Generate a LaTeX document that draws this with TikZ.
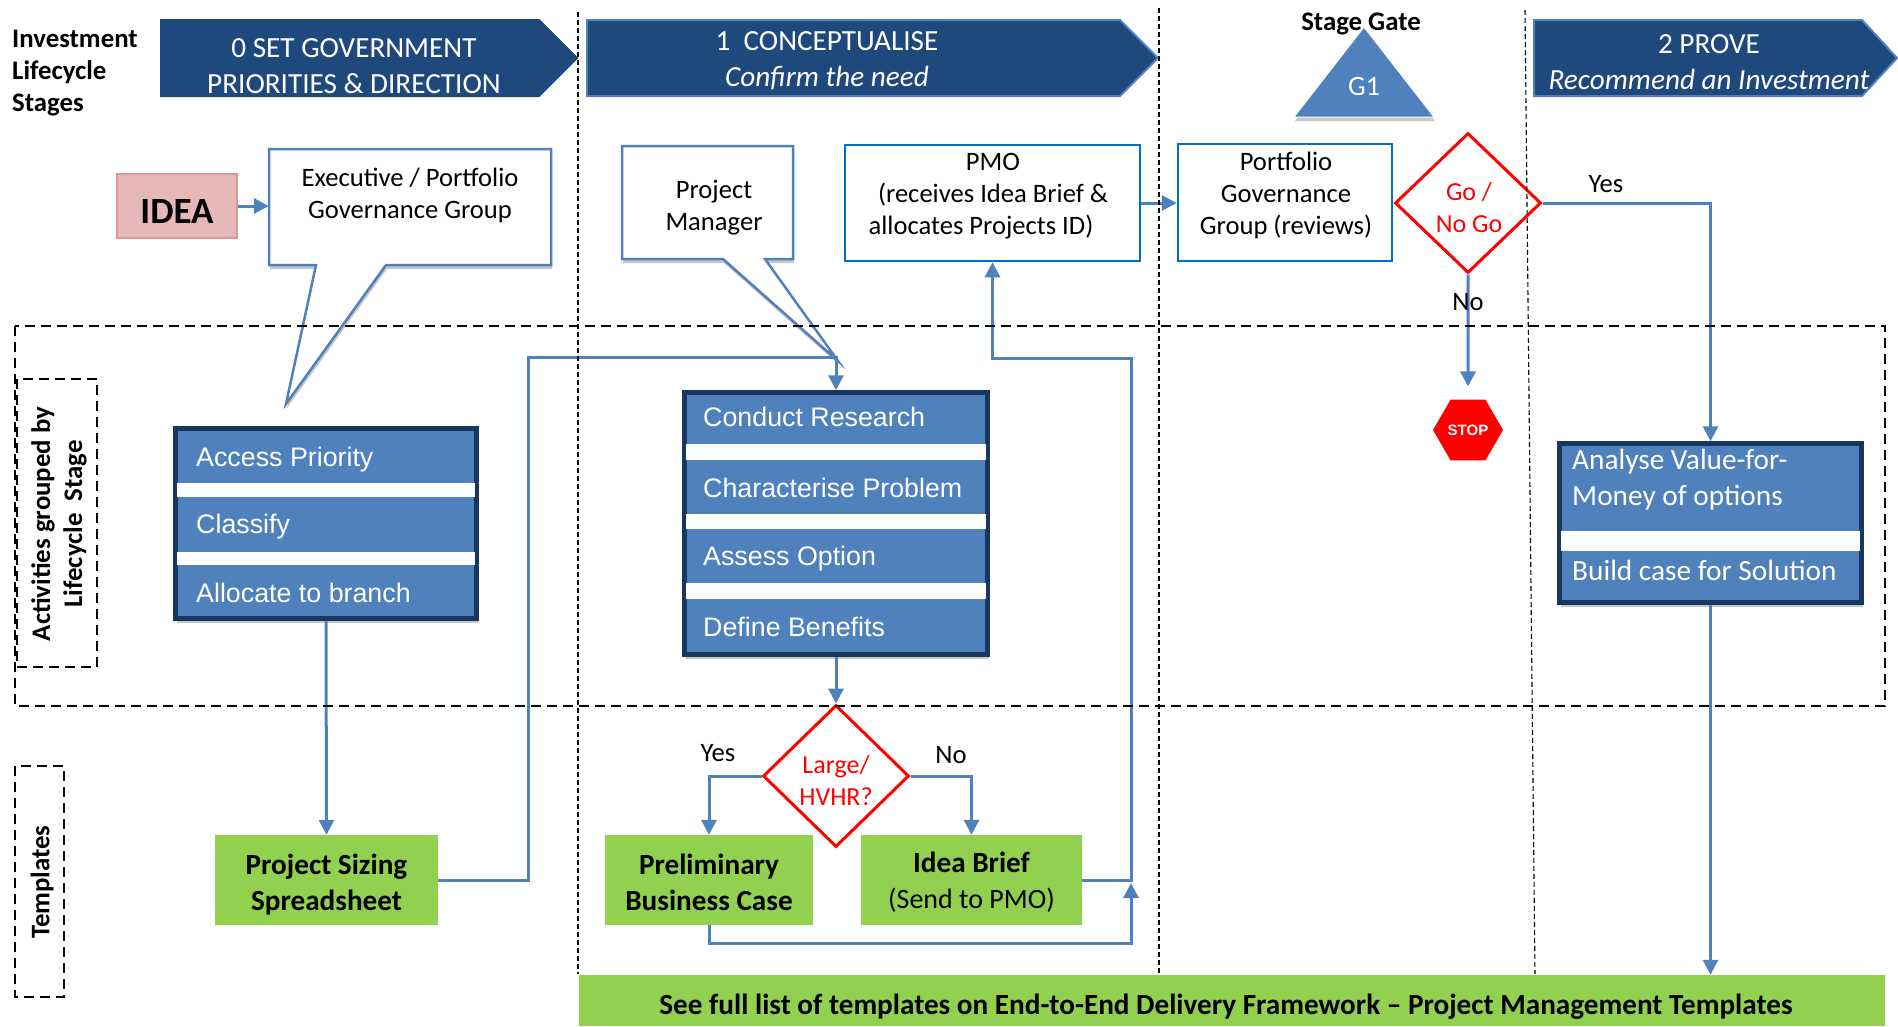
\documentclass[tikz,border=0pt]{standalone}
\usepackage{fontspec}
\setmainfont{Carlito}
\newfontfamily\arialfont{Liberation Sans}
\usetikzlibrary{arrows.meta,shapes.geometric,shadows}
\definecolor{navy}{HTML}{1F497D}
\definecolor{steel}{HTML}{4F81BD}
\definecolor{deep}{HTML}{17375E}
\definecolor{leaf}{HTML}{92D050}
\definecolor{pink}{HTML}{E6B8B7}
\definecolor{rose}{HTML}{D99694}
\definecolor{azure}{HTML}{0070C0}
\tikzset{
    txt/.style={font=\fontsize{26.6}{32}\selectfont,align=center,inner sep=0pt},
    boldtxt/.style={txt,font=\fontsize{26.8}{32}\selectfont\bfseries},
    flow/.style={steel,line width=3pt,-{Triangle[length=15pt,width=15pt]}},
    softshadow/.style={drop shadow={shadow xshift=1pt,shadow yshift=-4pt,opacity=.22,fill=black}},
    chevtxt/.style={txt,white,font=\fontsize{29.2}{36}\selectfont},
    talk/.style={fill=white,draw=steel,line width=2.5pt,softshadow},
    plainbox/.style={rectangle,inner sep=0pt,fill=white,draw=azure,line width=2.5pt},
    gatebox/.style={diamond,fill=white,draw=red,line width=3pt,inner sep=0pt},
    gatetxt/.style={txt,text=red,font=\fontsize{26}{32}\selectfont},
    stack/.style={rectangle,fill=steel,draw=deep,line width=4.5pt,softshadow,inner sep=0pt},
    item/.style={anchor=west,inner sep=0pt,white,font=\arialfont\fontsize{26.8}{32}\selectfont},
    itemb/.style={anchor=west,inner sep=0pt,white,align=left,font=\fontsize{29.3}{36}\selectfont},
    template/.style={rectangle,fill=leaf,inner sep=0pt},
    templatetxt/.style={inner sep=0pt,align=center,font=\fontsize{29.2}{36}\selectfont\bfseries},
    region/.style={black,line width=2.5pt,dash pattern=on 10pt off 6pt},
    lane/.style={black,line width=1.1pt,dash pattern=on 5pt off 3pt}
}
\begin{document}
\begin{tikzpicture}[x=1pt,y=-1pt]
    \useasboundingbox (0,0) rectangle (1898,1026);
    % stage banners
    \foreach \xa/\xb/\xc/\edge in {161/539/577/navy,587/1120/1158/steel,1534/1862/1897/steel}
    \draw[fill=navy,draw=\edge,line width=2pt] (\xa,20) -- (\xb,20) -- (\xc,58) -- (\xb,96) -- (\xa,96) -- cycle;
    \node[chevtxt] (stagezero) at (354,66) {0 SET GOVERNMENT\\PRIORITIES \& DIRECTION};
    \node[chevtxt] (stageone) at (827,61) {1\ \ CONCEPTUALISE\\\itshape Confirm the need};
    \node[chevtxt] (stagetwo) at (1709,62) {2 PROVE\\\itshape Recommend an Investment};
    \node[boldtxt,align=left,anchor=west] (lifecycle) at (12,73) {Investment\\Lifecycle\\Stages};
    \node[boldtxt] (stagegate) at (1361,24) {Stage Gate};
    \draw[fill=steel,draw=white,line width=1pt,softshadow] (1364,27) -- (1434,117) -- (1294,117) -- cycle;
    \node[txt,white,font=\fontsize{28}{32}\selectfont] (gone) at (1364,87) {G1};
    % top row
    \node[rectangle,fill=pink,draw=rose,line width=2pt,minimum width=120pt,minimum height=64pt,inner sep=0pt] (idea) at (177,206) {};
    \node[inner sep=0pt,font=\fontsize{37}{40}\selectfont\bfseries] (ideatxt) at (177,211) {IDEA};
    \draw[talk] (269,149) -- (551,149) -- (551,265) -- (386,265) -- (286,404) -- (316,265) -- (269,265) -- cycle;
    \node[txt,minimum width=282pt,minimum height=90pt] (exec) at (410,195) {Executive / Portfolio\\Governance Group};
    \draw[talk] (622,146) -- (793,146) -- (793,259) -- (765,259) -- (838,361) -- (723,259) -- (622,259) -- cycle;
    \node[txt] (pm) at (714,208) {Project\\Manager};
    \node[plainbox,minimum width=295pt,minimum height=116pt] (pmo) at (992.5,203) {};
    \node[txt] (pmotxt) at (993,196) {PMO\\(receives Idea Brief \&\hspace*{24pt}\\allocates Projects ID)\hspace*{24pt}};
    \node[plainbox,minimum width=214pt,minimum height=117pt] (portfolio) at (1285,202.5) {};
    \node[txt] (portfoliotxt) at (1286,195) {Portfolio\\Governance\\Group (reviews)};
    \node[gatebox,minimum width=146pt,minimum height=140pt] (go) at (1468,203) {};
    \node[gatetxt] (gotxt) at (1469,208) {Go /\\No Go};
    % activities
    \node[stack,minimum width=301pt,minimum height=190pt] (access) at (326,523.5) {};
    \node[stack,minimum width=303pt,minimum height=262pt] (conduct) at (836,523.5) {};
    \node[stack,minimum width=302pt,minimum height=159pt] (analyse) at (1710.5,523) {};
    \foreach \ya/\yb in {483/497,552/565}
    \fill[white] (177,\ya) rectangle (475,\yb);
    \foreach \ya/\yb in {444/460,514/529,583/599}
    \fill[white] (686,\ya) rectangle (986,\yb);
    \fill[white] (1561,531) rectangle (1860,551);
    \node[item] (accessa) at (196,460) {Access Priority};
    \node[item] (accessb) at (196,527) {Classify};
    \node[item] (accessc) at (196,593) {Allocate to branch};
    \node[item] (conducta) at (703,417) {Conduct Research};
    \node[item] (conductb) at (703,488) {Characterise Problem};
    \node[item] (conductc) at (703,559) {Assess Option};
    \node[item] (conductd) at (703,627) {Define Benefits};
    \node[itemb] (analysea) at (1572,480) {Analyse Value-for-\\Money of options};
    \node[itemb] (analyseb) at (1572,570) {Build case for Solution};
    \node[regular polygon,regular polygon sides=6,fill=red,minimum size=70pt,inner sep=0pt,text=white,font=\arialfont\fontsize{15}{18}\selectfont\bfseries] (stop) at (1468,430) {STOP};
    % templates
    \node[gatebox,minimum width=146pt,minimum height=142pt] (large) at (836,776) {};
    \node[gatetxt] (largetxt) at (836,781) {Large/\\HVHR?};
    \node[template,minimum width=223pt,minimum height=90pt] (sizing) at (326.5,880) {};
    \node[templatetxt] (sizingtxt) at (326.5,885) {Project Sizing\\Spreadsheet};
    \node[template,minimum width=208pt,minimum height=90pt] (prelim) at (709,880) {};
    \node[templatetxt] (prelimtxt) at (709,882) {Preliminary\\Business Case};
    \node[template,minimum width=221pt,minimum height=90pt] (brief) at (971.5,880) {};
    \node[templatetxt] (brieftxt) at (971.5,882) {Idea Brief\\\normalfont\fontsize{28}{36}\selectfont (Send to PMO)};
    \node[template,minimum width=1306pt,minimum height=51pt] (fulllist) at (1232,1000.5) {};
    \node[templatetxt] (fulllisttxt) at (1226,1007) {See full list of templates on End-to-End Delivery Framework -- Project Management Templates};
    % bends
    \coordinate (sizingbend) at (528,357);
    \coordinate (briefbend) at (1131,358);
    \coordinate (prelimbend) at (1131,943);
    \coordinate (prelimend) at (1131,883);
    \draw[flow] (idea.east) -- (idea.east -| exec.west);
    \draw[flow] (pmo.east) -- (pmo.east -| portfolio.west);
    \draw[flow] (access.south) -- (sizing.north);
    \draw[flow] (sizing.east) -| (sizingbend) -| (conduct.north);
    \draw[flow] (conduct.south) -- (large.north);
    \draw[flow] (large.west) -| (prelim.north);
    \draw[flow] (large.east) -| (brief.north);
    \draw[flow] (brief.east) -| (briefbend) -| (pmo.south);
    \draw[flow] (prelim.south) |- (prelimbend) -- (prelimend);
    \draw[flow] (go.east) -| (analyse.north);
    \draw[flow,shorten >=13pt] (go.south) -- (stop.north);
    \draw[flow] (analyse.south) -- (analyse.south |- fulllist.north);
    \node[txt] (yesgo) at (1606,184) {Yes};
    \node[txt] (nogo) at (1468,302) {No};
    \node[txt] (yeslarge) at (718,753) {Yes};
    \node[txt] (nolarge) at (951,755) {No};
    % dashed regions and lanes
    \draw[region] (15,326) rectangle (1885,706);
    \draw[region] (17,379) rectangle (97,667);
    \draw[region] (15,766) rectangle (64,997);
    \draw[lane] (578,12) -- (578,974);
    \draw[lane] (1159,8) -- (1159,974);
    \draw[lane] (1525,10) -- (1535,974);
    \node[boldtxt,rotate=90] (activities) at (59,524) {Activities grouped by\\Lifecycle\ \ Stage};
    \node[boldtxt,rotate=90] (templates) at (42,882) {Templates};
\end{tikzpicture}
\end{document}
